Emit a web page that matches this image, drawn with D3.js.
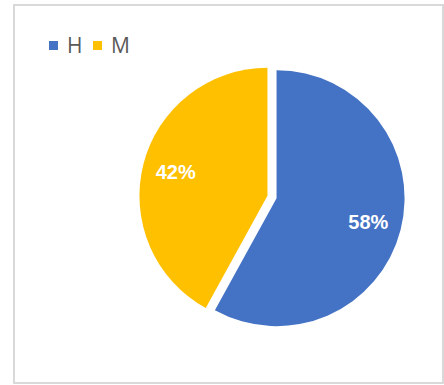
<!DOCTYPE html>
<html>
<head>
<meta charset="utf-8">
<script src="https://cdn.jsdelivr.net/npm/d3@7"></script>
<style>
  body { margin: 0; background: #fff; }
  svg { display: block; }
</style>
</head>
<body>
<div id="pie-chart"></div>
<script>
var categories = ["H", "M"];
var values = [58, 42];
var labels = ["58%", "42%"];
var colors = ["#4472C4", "#FFC000"];

var width = 444,
  height = 385;

var svg = d3
  .select("#pie-chart")
  .append("svg")
  .attr("width", width)
  .attr("height", height);

// chart border
svg
  .append("rect")
  .attr("x", 14)
  .attr("y", 5)
  .attr("width", 429)
  .attr("height", 378)
  .attr("fill", "#fff")
  .attr("stroke", "#d9d9d9")
  .attr("stroke-width", 2);

var radius = 128,
  explode = 4.7;

var g = svg.append("g").attr("transform", "translate(272,197)");

var pie = d3
  .pie()
  .sort(null)
  .value(function (d, i) {
    return values[i];
  });

var arc = d3.arc().innerRadius(0).outerRadius(radius);
var labelArc = d3.arc().innerRadius(radius * 0.74).outerRadius(radius * 0.74);

var slices = g
  .selectAll(".slice")
  .data(pie(categories))
  .enter()
  .append("g")
  .attr("class", "slice")
  .attr("transform", function (d) {
    var a = (d.startAngle + d.endAngle) / 2;
    return "translate(" + explode * Math.sin(a) + "," + -explode * Math.cos(a) + ")";
  });

slices
  .append("path")
  .attr("d", arc)
  .attr("fill", function (d, i) {
    return colors[i];
  });

slices
  .append("text")
  .attr("transform", function (d) {
    return "translate(" + labelArc.centroid(d) + ")";
  })
  .attr("dy", "0.36em")
  .attr("text-anchor", "middle")
  .style("font-family", "'Liberation Sans', Arial, sans-serif")
  .style("font-weight", "bold")
  .style("font-size", "20px")
  .attr("fill", "#fff")
  .text(function (d, i) {
    return labels[i];
  });

// legend
var legend = svg
  .selectAll(".legend")
  .data(categories)
  .enter()
  .append("g")
  .attr("class", "legend")
  .attr("transform", function (d, i) {
    return "translate(" + (49 + i * 44) + ",41)";
  });

legend
  .append("rect")
  .attr("width", 9)
  .attr("height", 9)
  .attr("fill", function (d, i) {
    return colors[i];
  });

legend
  .append("text")
  .attr("x", 18)
  .attr("y", 12)
  .style("font-family", "'Open Sans', sans-serif")
  .style("font-size", "21px")
  .attr("fill", "#595959")
  .text(function (d) {
    return d;
  });
</script>
</body>
</html>
